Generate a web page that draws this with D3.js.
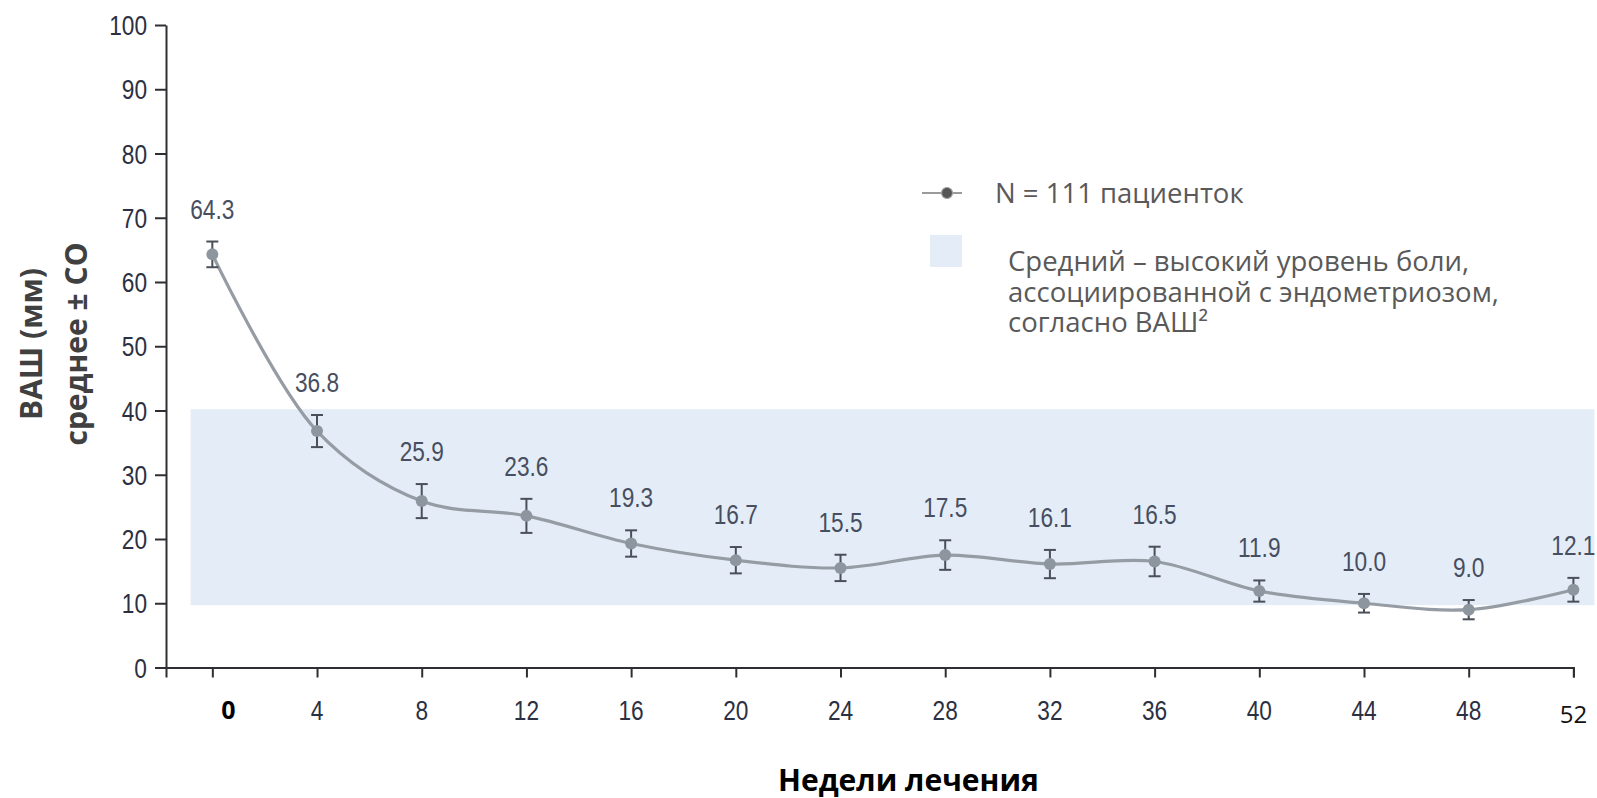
<!DOCTYPE html>
<html>
<head>
<meta charset="utf-8">
<script src="https://cdn.jsdelivr.net/npm/d3@7"></script>
<style>
  html, body { margin: 0; padding: 0; background: #ffffff; }
  svg { display: block; }
  .num { font-family: "Liberation Sans Narrow", "Arial Narrow", "Liberation Sans", Arial, sans-serif; }
</style>
</head>
<body>
<svg id="chart" width="1597" height="798"></svg>
<script>
// ---- data ----
const weeks = [0, 4, 8, 12, 16, 20, 24, 28, 32, 36, 40, 44, 48, 52];
const meanVAS = [64.3, 36.8, 25.9, 23.6, 19.3, 16.7, 15.5, 17.5, 16.1, 16.5, 11.9, 10.0, 9.0, 12.1];
const sdVAS = [2.0, 2.5, 2.65, 2.65, 2.05, 2.05, 2.05, 2.3, 2.2, 2.3, 1.65, 1.45, 1.5, 1.85];
const valueLabels = ["64.3", "36.8", "25.9", "23.6", "19.3", "16.7", "15.5", "17.5", "16.1", "16.5", "11.9", "10.0", "9.0", "12.1"];
const yTicks = [0, 10, 20, 30, 40, 50, 60, 70, 80, 90, 100];
const xTickLabels = ["0", "4", "8", "12", "16", "20", "24", "28", "32", "36", "40", "44", "48", "52"];
const bandRange = [9.7, 40.2];          // moderate–severe pain zone (mm)
const bandWeeks = [-0.83, 52.8];
const yTitleLines = ["ВАШ (мм)", "среднее ± СО"];
const xTitle = "Недели лечения";
const legendSeries = "N = 111 пациенток";
const legendBandLines = ["Средний – высокий уровень боли,", "ассоциированной с эндометриозом,", "согласно ВАШ²"];

// ---- scales ----
const svg = d3.select("#chart");
const x = d3.scaleLinear().domain([-1.77, 52]).range([166, 1573.4]);
const y = d3.scaleLinear().domain([0, 100]).range([667.5, 25]);

// band
svg.append("rect")
  .attr("x", x(bandWeeks[0]))
  .attr("y", y(bandRange[1]))
  .attr("width", x(bandWeeks[1]) - x(bandWeeks[0]))
  .attr("height", y(bandRange[0]) - y(bandRange[1]))
  .attr("fill", "#e4edf7");

// axes
const axisColor = "#2f2f33";
const yAxis = svg.append("g").attr("transform", `translate(${x.range()[0]},0)`)
  .call(d3.axisLeft(y).tickValues(yTicks).tickSize(11).tickSizeOuter(0).tickPadding(8));
yAxis.select(".domain").attr("stroke", axisColor).attr("stroke-width", 2);
yAxis.selectAll(".tick line").attr("stroke", axisColor).attr("stroke-width", 2);
yAxis.selectAll(".tick text")
  .attr("class", "num")
  .attr("font-size", 27)
  .attr("fill", "#2b3042")
  .attr("dy", "0.36em");

const xAxis = svg.append("g").attr("transform", `translate(0,${y(0)})`)
  .call(d3.axisBottom(x).tickValues(weeks).tickSize(10).tickSizeOuter(10).tickFormat(""));
xAxis.select(".domain").attr("stroke", axisColor).attr("stroke-width", 2);
xAxis.selectAll(".tick line").attr("stroke", axisColor).attr("stroke-width", 2);

// x tick labels
const xl = svg.append("g");
weeks.forEach((w, i) => {
  const t = xl.append("text").text(xTickLabels[i]).attr("text-anchor", "middle");
  if (i === 0) {
    t.attr("x", x(w) + 16).attr("y", 719)
      .attr("font-family", "'Open Sans', sans-serif").attr("font-weight", "bold")
      .attr("font-size", 25).attr("fill", "#000");
  } else if (i === weeks.length - 1) {
    t.attr("x", x(w)).attr("y", 723)
      .attr("font-family", "'Open Sans', sans-serif")
      .attr("font-size", 24).attr("fill", "#111");
  } else {
    t.attr("x", x(w)).attr("y", 719.5).attr("class", "num")
      .attr("font-size", 27).attr("fill", "#2b3042");
  }
});

// line
const line = d3.line()
  .x((d, i) => x(weeks[i]))
  .y(d => y(d))
  .curve(d3.curveCatmullRom.alpha(0.5));
svg.append("path")
  .datum(meanVAS)
  .attr("d", line)
  .attr("fill", "none")
  .attr("stroke", "#959ca4")
  .attr("stroke-width", 3.2);

// error bars
const eb = svg.append("g").attr("stroke", "#4a4f58").attr("stroke-width", 2);
meanVAS.forEach((m, i) => {
  const cx = x(weeks[i]);
  eb.append("line").attr("x1", cx).attr("x2", cx).attr("y1", y(m + sdVAS[i])).attr("y2", y(m - sdVAS[i]));
  eb.append("line").attr("x1", cx - 6).attr("x2", cx + 6).attr("y1", y(m + sdVAS[i])).attr("y2", y(m + sdVAS[i]));
  eb.append("line").attr("x1", cx - 6).attr("x2", cx + 6).attr("y1", y(m - sdVAS[i])).attr("y2", y(m - sdVAS[i]));
});

// points
svg.append("g").selectAll("circle")
  .data(meanVAS)
  .join("circle")
  .attr("cx", (d, i) => x(weeks[i]))
  .attr("cy", d => y(d))
  .attr("r", 6)
  .attr("fill", "#8d959e");

// value labels
svg.append("g").selectAll("text")
  .data(meanVAS)
  .join("text")
  .attr("class", "num")
  .attr("x", (d, i) => x(weeks[i]))
  .attr("y", (d, i) => y(d + sdVAS[i]) - 23)
  .attr("text-anchor", "middle")
  .attr("font-size", 27)
  .attr("fill", "#474e60")
  .text((d, i) => valueLabels[i]);

// condense the numeric labels if no narrow face is installed
(function () {
  const probe = svg.append("text").attr("class", "num").attr("font-size", 27).text("000");
  const w = probe.node().getComputedTextLength();
  probe.remove();
  if (w > 40) {
    const k = 0.84;
    svg.selectAll("text.num").each(function () {
      const len = this.getComputedTextLength();
      d3.select(this).attr("lengthAdjust", "spacingAndGlyphs").attr("textLength", len * k);
    });
  }
})();

// y title
const yt = svg.append("g")
  .attr("font-family", "'Open Sans', sans-serif")
  .attr("font-weight", "bold")
  .attr("font-size", 30)
  .attr("fill", "#404040");
[42, 87].forEach((bx, i) => {
  yt.append("text")
    .attr("transform", `translate(${bx},344) rotate(-90)`)
    .attr("text-anchor", "middle")
    .text(yTitleLines[i]);
});

// x title
svg.append("text")
  .attr("x", 778).attr("y", 791)
  .attr("font-family", "'Open Sans', sans-serif")
  .attr("font-weight", "bold")
  .attr("font-size", 30)
  .attr("fill", "#000")
  .text(xTitle);

// legend
const lg = svg.append("g");
lg.append("line").attr("x1", 922).attr("x2", 962).attr("y1", 193).attr("y2", 193)
  .attr("stroke", "#7a7a7a").attr("stroke-width", 1.5);
lg.append("circle").attr("cx", 947).attr("cy", 193).attr("r", 5.5)
  .attr("fill", "#555555").attr("stroke", "#a0a0a0").attr("stroke-width", 1.2);
lg.append("text").attr("x", 995).attr("y", 203)
  .attr("font-family", "'Open Sans', sans-serif").attr("font-size", 27.5).attr("fill", "#595959")
  .text(legendSeries);
lg.append("rect").attr("x", 930).attr("y", 235).attr("width", 32).attr("height", 32).attr("fill", "#e4edf7");
legendBandLines.forEach((s, i) => {
  lg.append("text").attr("x", 1008).attr("y", 271 + i * 30.5)
    .attr("font-family", "'Open Sans', sans-serif").attr("font-size", 27.5).attr("fill", "#595959")
    .text(s);
});
</script>
</body>
</html>
